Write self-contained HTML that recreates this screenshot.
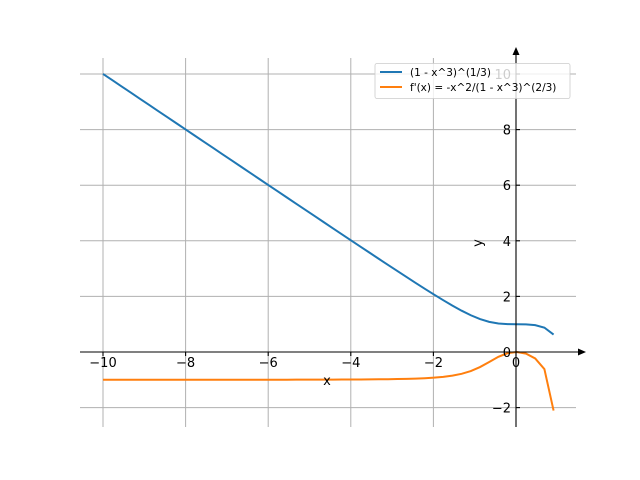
<!DOCTYPE html>
<html><head><style>body{margin:0;background:#fff}svg{display:block}text{font-family:"DejaVu Sans","Liberation Sans",sans-serif}</style></head>
<body>
<svg id="s" width="640" height="480" xmlns="http://www.w3.org/2000/svg">
<g stroke="#b0b0b0" stroke-width="1">
<line x1="103" y1="58" x2="103" y2="427"/><line x1="185.6" y1="58" x2="185.6" y2="427"/><line x1="268.2" y1="58" x2="268.2" y2="427"/><line x1="350.8" y1="58" x2="350.8" y2="427"/><line x1="433.4" y1="58" x2="433.4" y2="427"/><line x1="516" y1="58" x2="516" y2="427"/>
<line x1="80" y1="74" x2="576" y2="74"/><line x1="80" y1="129.6" x2="576" y2="129.6"/><line x1="80" y1="185.2" x2="576" y2="185.2"/><line x1="80" y1="240.8" x2="576" y2="240.8"/><line x1="80" y1="296.4" x2="576" y2="296.4"/><line x1="80" y1="352" x2="576" y2="352"/><line x1="80" y1="407.6" x2="576" y2="407.6"/>
</g>
<g id="curves" fill="none" stroke-width="2"></g>
<g stroke="#000" stroke-width="1.1">
<line x1="516" y1="427" x2="516" y2="52"/><line x1="80" y1="352" x2="580" y2="352"/>
<line x1="103" y1="352" x2="103" y2="356"/><line x1="185.6" y1="352" x2="185.6" y2="356"/><line x1="268.2" y1="352" x2="268.2" y2="356"/><line x1="350.8" y1="352" x2="350.8" y2="356"/><line x1="433.4" y1="352" x2="433.4" y2="356"/><line x1="516" y1="352" x2="516" y2="356"/>
<line x1="516" y1="74" x2="520" y2="74"/><line x1="516" y1="129.6" x2="520" y2="129.6"/><line x1="516" y1="185.2" x2="520" y2="185.2"/><line x1="516" y1="240.8" x2="520" y2="240.8"/><line x1="516" y1="296.4" x2="520" y2="296.4"/><line x1="516" y1="352" x2="520" y2="352"/><line x1="516" y1="407.6" x2="520" y2="407.6"/>
</g>
<path d="M516 47 L512.5 55 L519.5 55 Z M586 352 L578 348.5 L578 355.5 Z" fill="#000"/>
<g font-size="13" fill="#000" text-anchor="middle">
<text x="103" y="367">−10</text><text x="185.6" y="367">−8</text><text x="268.2" y="367">−6</text><text x="350.8" y="367">−4</text><text x="433.4" y="367">−2</text><text x="516" y="367">0</text>
<text x="327" y="385">x</text>
</g>
<g font-size="13" fill="#000" text-anchor="end">
<text x="511" y="79">10</text><text x="511" y="134.6">8</text><text x="511" y="190.2">6</text><text x="511" y="245.8">4</text><text x="511" y="301.4">2</text><text x="511" y="357">0</text><text x="511" y="412.6">−2</text>
</g>
<text x="482" y="243" font-size="13" text-anchor="middle" transform="rotate(-90 482 243)">y</text>
<rect x="375" y="63.5" width="195" height="35" rx="2" fill="#fff" fill-opacity="0.8" stroke="#ccc" stroke-width="0.8"/>
<line x1="380" y1="72" x2="402" y2="72" stroke="#1f77b4" stroke-width="2"/>
<line x1="380" y1="87" x2="402" y2="87" stroke="#ff7f0e" stroke-width="2"/>
<text x="410" y="76" font-size="10.5">(1 - x^3)^(1/3)</text>
<text x="410" y="91" font-size="10.5">f'(x) = -x^2/(1 - x^3)^(2/3)</text>
</svg>
<script>
var g=document.getElementById('curves'),a='',b='';
function X(x){return 516+x*41.3}function Y(y){return 352-y*27.8}
for(var i=0;i<50;i++){var x=-10+i*(10.91/49);var u=1-x*x*x;var c=Math.cbrt(u);var d=-x*x/Math.pow(Math.cbrt(u),2);
a+=(i?'L':'M')+X(x).toFixed(2)+' '+Y(c).toFixed(2);b+=(i?'L':'M')+X(x).toFixed(2)+' '+Y(d).toFixed(2);}
g.innerHTML='<path d="'+a+'" stroke="#1f77b4"/><path d="'+b+'" stroke="#ff7f0e"/>';
</script>
</body></html>
